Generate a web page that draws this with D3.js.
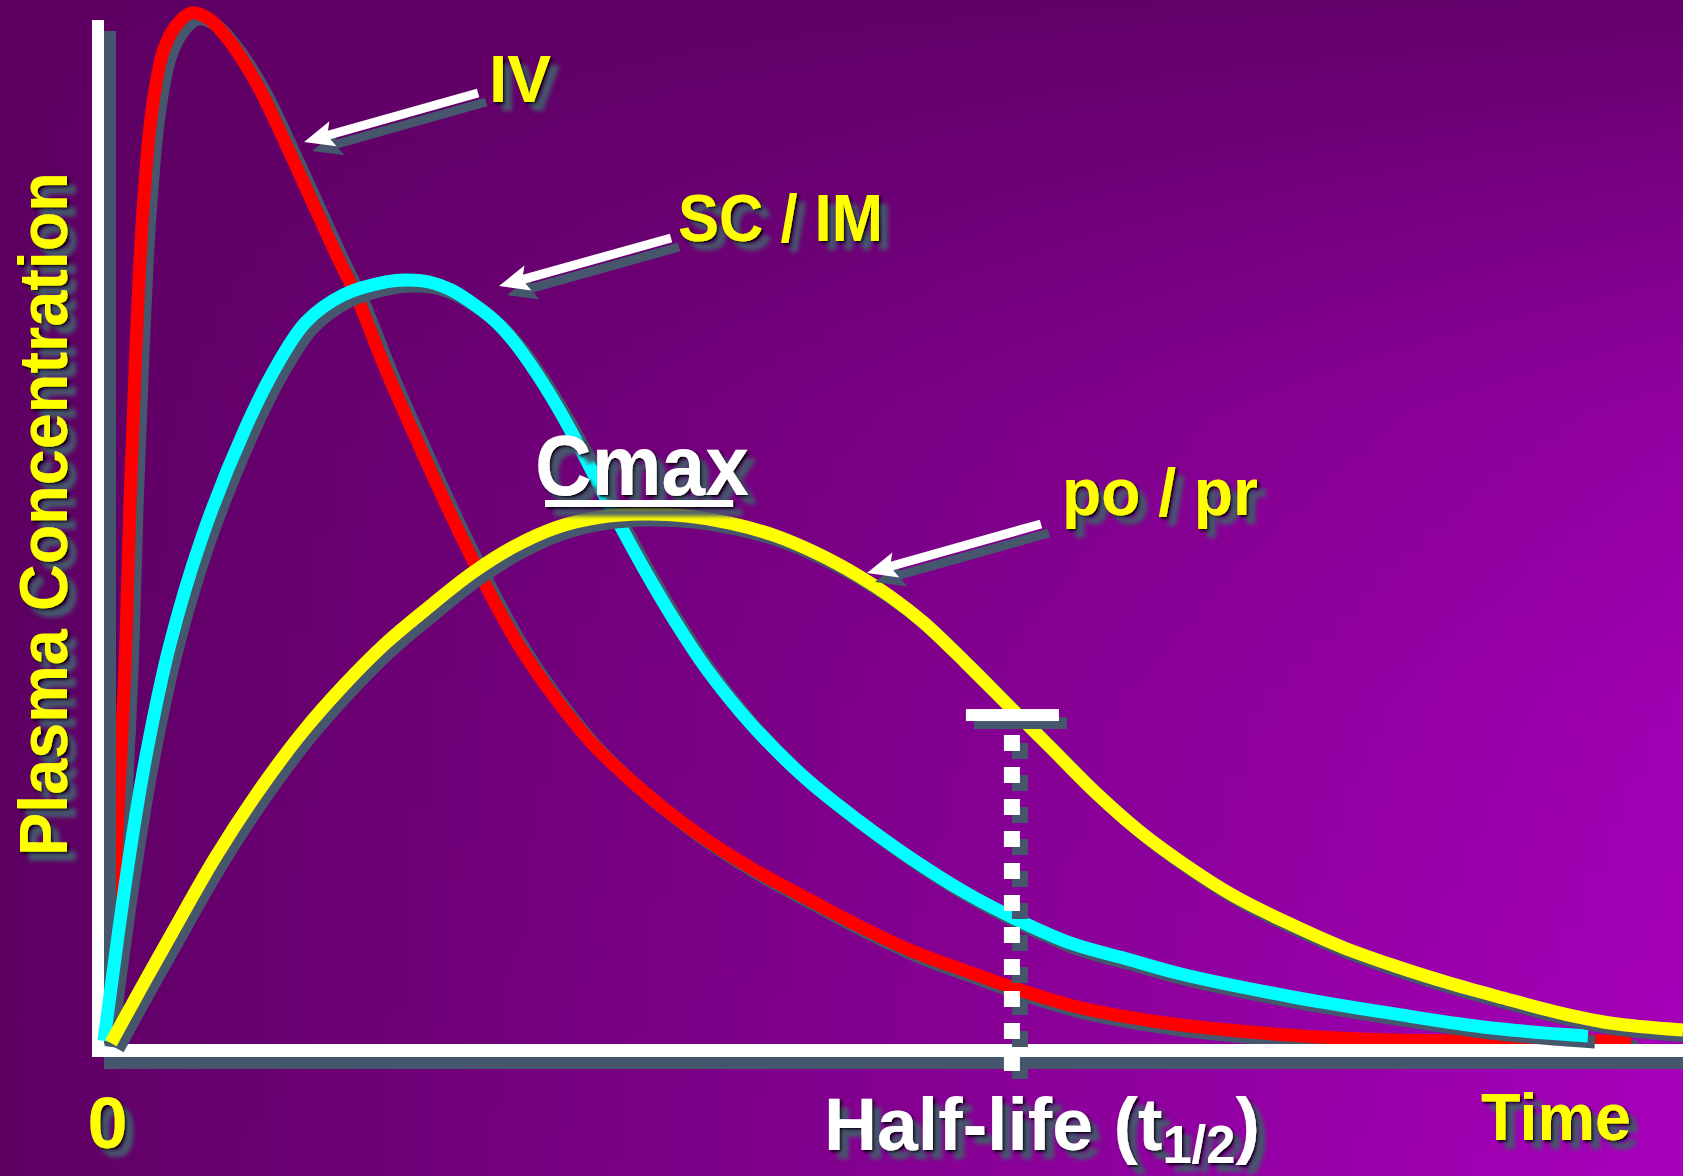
<!DOCTYPE html>
<html><head><meta charset="utf-8">
<script src="https://cdn.jsdelivr.net/npm/d3@7"></script>
<style>
html,body{margin:0;padding:0;background:#5e0064;overflow:hidden}
svg{display:block}
text{font-family:"Liberation Sans",Arial,Helvetica,sans-serif;font-weight:bold}
</style></head><body>
<svg id="chart" width="1683" height="1176"></svg>
<script>
// ---- data (time in arbitrary units 0-100, concentration in % of IV peak) ----
const ivTime = [0.25, 0.82, 1.33, 1.65, 2.03, 2.47, 3.04, 3.74, 4.50, 5.51, 6.65, 8.04, 9.75, 11.40, 13.11, 14.82, 15.96, 17.86, 19.95, 21.98, 24.00, 26.03, 28.06, 30.78, 34.20, 37.62, 40.98, 44.46, 47.81, 51.17, 54.59, 58.01, 61.37, 64.79, 68.21, 74.98, 81.76, 89.93, 96.71];
const ivConc = [0, 20.39, 36.62, 52.66, 67.63, 80.68, 90.34, 95.94, 98.36, 99.71, 99.13, 96.81, 92.66, 87.44, 81.74, 76.04, 72.46, 65.22, 57.97, 51.21, 44.93, 39.23, 34.59, 29.37, 24.44, 20.39, 17.10, 14.20, 11.50, 9.08, 7.15, 5.31, 3.77, 2.71, 1.93, 0.97, 0.48, 0.39, 0.39];

const scimTime = [0, 1.58, 2.72, 4.18, 6.21, 8.93, 10.96, 12.79, 15.14, 17.86, 19.13, 20.58, 21.98, 23.31, 24.70, 26.03, 27.42, 28.75, 30.15, 32.17, 34.20, 36.23, 38.25, 40.98, 44.40, 47.81, 51.17, 54.59, 58.01, 61.37, 64.79, 68.21, 74.98, 81.76, 87.90, 93.98];
const scimConc = [0.39, 17.97, 28.41, 38.74, 49.08, 59.52, 65.70, 69.86, 72.46, 73.72, 73.91, 73.72, 72.95, 71.69, 70.05, 67.83, 64.83, 61.55, 57.68, 51.69, 45.99, 40.77, 36.14, 31.01, 25.80, 21.64, 17.97, 14.69, 11.98, 9.76, 8.31, 6.86, 4.73, 3.00, 1.64, 0.87];

const poTime = [0.44, 2.28, 4.31, 7.03, 9.75, 12.48, 15.14, 17.86, 20.58, 23.31, 26.03, 28.75, 31.48, 34.20, 36.92, 39.65, 42.37, 45.09, 47.81, 49.84, 51.87, 54.59, 57.31, 60.04, 62.76, 65.48, 68.21, 71.56, 74.98, 78.40, 81.76, 85.18, 88.60, 91.96, 95.38, 100];
const poConc = [0.19, 5.31, 10.82, 18.07, 24.44, 30.05, 34.69, 38.84, 42.32, 45.60, 48.21, 50.05, 51.01, 51.30, 51.11, 50.43, 49.28, 47.54, 45.31, 43.29, 40.87, 36.91, 32.75, 28.60, 24.44, 20.77, 17.68, 14.40, 11.79, 9.47, 7.63, 5.99, 4.54, 3.19, 2.13, 1.45];

const seriesNames = ["IV", "SC / IM", "po / pr"];
const seriesColors = ["#ff0000", "#00ffff", "#ffff00"];
// annotation anchors (data units)
const labelTime = [24.38, 36.35, 60.67];
const labelConc = [91.11, 77.68, 51.21];
const arrowTailTime = [23.69, 35.91, 59.34];
const arrowTailConc = [91.98, 77.97, 50.34];
const arrowTipTime = [12.67, 25.02, 48.32];
const arrowTipConc = [87.25, 73.33, 45.60];
const cmaxLabel = "Cmax";
const cmaxTime = 27.30, cmaxConc = 53.14;
const halfLifeTime = 57.5, halfLifeConc = 31.88;
const xTickValues = [0];
const xTickLabels = ["0"];
const xTitleMain = "Half-life (t", xTitleSub = "1/2", xTitleEnd = ")";
const xEndLabel = "Time";
const yTitle = "Plasma Concentration";

// ---- setup ----
const W = 1683, H = 1176;
const svg = d3.select("#chart");
const x = d3.scaleLinear().domain([0, 100]).range([104, 1683]);
const y = d3.scaleLinear().domain([0, 100]).range([1045, 10]);
const SH = "#46566c";

const defs = svg.append("defs");
const gh = defs.append("linearGradient").attr("id", "bgH").attr("gradientUnits", "userSpaceOnUse")
  .attr("x1", 0).attr("y1", 0).attr("x2", W).attr("y2", 0);
gh.append("stop").attr("offset", 0).attr("stop-color", "#5d0062");
gh.append("stop").attr("offset", 1).attr("stop-color", "#a800bc");
const gv = defs.append("linearGradient").attr("id", "bgV").attr("gradientUnits", "userSpaceOnUse")
  .attr("x1", 0).attr("y1", 0).attr("x2", 0).attr("y2", H);
[[0, 0.9], [0.35, 0.3], [0.6, 0.12], [1, 0]].forEach(([o, a]) =>
  gv.append("stop").attr("offset", o).attr("stop-color", "#5d0062").attr("stop-opacity", a));

const f = defs.append("filter").attr("id", "tsh").attr("x", "-20%").attr("y", "-30%").attr("width", "150%").attr("height", "170%");
f.append("feOffset").attr("in", "SourceAlpha").attr("dx", 9).attr("dy", 9).attr("result", "o1");
f.append("feGaussianBlur").attr("in", "o1").attr("stdDeviation", 2).attr("result", "b1");
f.append("feFlood").attr("flood-color", SH).attr("result", "c1");
f.append("feComposite").attr("in", "c1").attr("in2", "b1").attr("operator", "in").attr("result", "slate");
f.append("feOffset").attr("in", "SourceAlpha").attr("dx", 2).attr("dy", 2).attr("result", "o2");
f.append("feGaussianBlur").attr("in", "o2").attr("stdDeviation", 1.4).attr("result", "b2");
f.append("feFlood").attr("flood-color", "#000").attr("result", "c2");
f.append("feComposite").attr("in", "c2").attr("in2", "b2").attr("operator", "in").attr("result", "dark");
const fm = f.append("feMerge");
fm.append("feMergeNode").attr("in", "slate");
fm.append("feMergeNode").attr("in", "dark");
fm.append("feMergeNode").attr("in", "SourceGraphic");

svg.append("rect").attr("width", W).attr("height", H).attr("fill", "url(#bgH)");
svg.append("rect").attr("width", W).attr("height", H).attr("fill", "url(#bgV)");

const line = d3.line().x(d => x(d[0])).y(d => y(d[1])).curve(d3.curveCatmullRom.alpha(0.5));
const series = [d3.zip(ivTime, ivConc), d3.zip(scimTime, scimConc), d3.zip(poTime, poConc)];

function drawSeries(i) {
  const g = svg.append("g").attr("class", "series-" + i);
  g.append("path").attr("d", line(series[i])).attr("fill", "none").attr("stroke", SH)
    .attr("stroke-width", 13).attr("transform", "translate(7,6)");
  g.append("path").attr("d", line(series[i])).attr("fill", "none").attr("stroke", seriesColors[i])
    .attr("stroke-width", 13);
}

drawSeries(0);

// axes lines
const ax = svg.append("g");
ax.append("rect").attr("x", 104).attr("y", 31).attr("width", 12).attr("height", 1038).attr("fill", SH);
ax.append("rect").attr("x", 104).attr("y", 1056).attr("width", W - 104).attr("height", 13).attr("fill", SH);
ax.append("rect").attr("x", 92).attr("y", 20).attr("width", 12).attr("height", 1037).attr("fill", "#fff");
ax.append("rect").attr("x", 92).attr("y", 1044).attr("width", W - 92).attr("height", 13).attr("fill", "#fff");

drawSeries(1);
drawSeries(2);

// half-life marker
const hx = x(halfLifeTime), hy = y(halfLifeConc);
const hl = svg.append("g");
[[8, 8, SH], [0, 0, "#fff"]].forEach(([dx, dy, c]) => {
  hl.append("line").attr("x1", hx + dx).attr("x2", hx + dx).attr("y1", hy + 20 + dy).attr("y2", 1071 + dy)
    .attr("stroke", c).attr("stroke-width", 16).attr("stroke-dasharray", "16,16");
  hl.append("rect").attr("x", hx - 46 + dx).attr("y", hy - 6 + dy).attr("width", 93).attr("height", 12).attr("fill", c);
});

// arrows
function arrowShape(x1, y1, x2, y2) {
  const dx = x2 - x1, dy = y2 - y1, L = Math.hypot(dx, dy);
  const ux = dx / L, uy = dy / L, nx = -uy, ny = ux;
  const bx = x2 - ux * 30, by = y2 - uy * 30;
  return {
    line: [x1, y1, bx + ux * 6, by + uy * 6],
    head: [[x2, y2], [bx + nx * 13, by + ny * 13], [bx + ux * 6, by + uy * 6], [bx - nx * 13, by - ny * 13]]
  };
}
const arr = svg.append("g");
for (let i = 0; i < 3; i++) {
  const s = arrowShape(x(arrowTailTime[i]), y(arrowTailConc[i]), x(arrowTipTime[i]), y(arrowTipConc[i]));
  [[8, 9, SH], [0, 0, "#fff"]].forEach(([dx, dy, c]) => {
    const g = arr.append("g").attr("transform", `translate(${dx},${dy})`);
    g.append("line").attr("x1", s.line[0]).attr("y1", s.line[1]).attr("x2", s.line[2]).attr("y2", s.line[3])
      .attr("stroke", c).attr("stroke-width", 9);
    g.append("polygon").attr("points", s.head.map(p => p.join(",")).join(" ")).attr("fill", c);
  });
}

// text helper
const tg = svg.append("g").attr("filter", "url(#tsh)");
function fitText(str, px, py, size, fill, targetW) {
  const t = tg.append("text").attr("font-size", size).attr("fill", fill).text(str);
  const w = t.node().getBBox().width;
  const k = targetW ? targetW / w : 1;
  t.attr("transform", `translate(${px},${py}) scale(${k},1)`);
  return t;
}
const labelWidths = [62, 205, 196];
for (let i = 0; i < 3; i++) {
  fitText(seriesNames[i], x(labelTime[i]), y(labelConc[i]), 66, "#ffff00", labelWidths[i]);
}
fitText(cmaxLabel, x(cmaxTime), y(cmaxConc), 86, "#ffffff", 214);
tg.append("rect").attr("x", x(cmaxTime) + 10).attr("y", y(cmaxConc) + 5).attr("width", 188).attr("height", 7).attr("fill", "#fff");

// x axis tick label
const xAxis = d3.axisBottom(x).tickValues(xTickValues).tickFormat((d, i) => xTickLabels[i]).tickSize(0).tickPadding(0);
const xa = tg.append("g").attr("transform", "translate(3,1148)").call(xAxis);
xa.select(".domain").remove();
xa.selectAll("text").attr("dy", null).attr("y", 0).attr("font-size", 72).attr("fill", "#ffff00")
  .attr("font-family", null).attr("text-anchor", "middle");

// x title
const ht = tg.append("text").attr("font-size", 74).attr("fill", "#fff");
ht.append("tspan").text(xTitleMain);
ht.append("tspan").attr("font-size", 53).attr("dy", 13).text(xTitleSub);
ht.append("tspan").attr("dy", -13).text(xTitleEnd);
{
  const w = ht.node().getBBox().width;
  ht.attr("transform", `translate(824,1150) scale(${436 / w},1)`);
}
fitText(xEndLabel, 1481, 1140, 66, "#ffff00", 150);

// y title
const yt = tg.append("text").attr("font-size", 68).attr("fill", "#ffff00").text(yTitle);
{
  const w = yt.node().getBBox().width;
  yt.attr("transform", `translate(67,856) rotate(-90) scale(${684 / w},1)`);
}
</script>
</body></html>
